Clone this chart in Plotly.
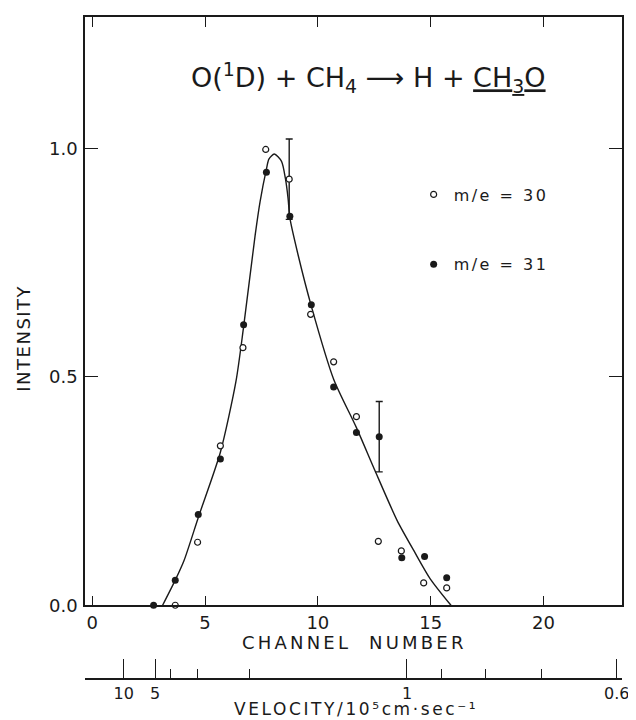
import plotly.graph_objects as go

# ---- data ----
ch30 = [3.68, 4.67, 5.68, 6.68, 7.69, 8.73, 9.68, 10.70, 11.71, 12.68, 13.70, 14.69, 15.71]
int30 = [0.0, 0.138, 0.349, 0.564, 0.998, 0.933, 0.637, 0.533, 0.413, 0.140, 0.119, 0.049, 0.038]

ch31 = [2.72, 3.68, 4.70, 5.68, 6.71, 7.72, 8.76, 9.71, 10.70, 11.71, 12.72, 13.72, 14.73, 15.71]
int31 = [0.0, 0.055, 0.199, 0.320, 0.614, 0.948, 0.852, 0.658, 0.478, 0.378, 0.369, 0.104, 0.107, 0.060]

# error bars (one on an m/e=30 point, one on an m/e=31 point)
err_ch = [8.73, 12.72]
err_int = [0.933, 0.369]
err_size = [0.088, 0.077]

# fitted curve
curve_ch = [3.12, 3.68, 4.07, 4.72, 5.68, 6.37, 6.71, 7.22, 7.44, 7.73, 7.83, 8.07, 8.39,
            8.56, 8.68, 8.76, 9.12, 9.71, 10.70, 11.71, 12.53, 13.51, 14.25, 14.98, 15.9]
curve_int = [0.0, 0.055, 0.098, 0.195, 0.335, 0.49, 0.61, 0.81, 0.884, 0.957, 0.977, 0.988, 0.972,
             0.935, 0.891, 0.848, 0.768, 0.655, 0.495, 0.389, 0.295, 0.186, 0.12, 0.058, 0.0]

# axis ticks
channel_ticks = [0, 5, 10, 15, 20]
intensity_ticks = [0.0, 0.5, 1.0]
vel_major = [10, 5, 1, 0.6]
vel_major_labels = ["10", "5", "1", "0.6"]
vel_minor = [4, 3, 2, 0.9, 0.8, 0.7]
VEL_CONST = 13.95  # channel = VEL_CONST / velocity

series_names = ["m/e = 30", "m/e = 31"]

FONT = "DejaVu Sans"
INK = "#1a1a1a"

XR = [-0.32, 23.48]
YR = [0, 1.288]


def spaced(txt, px):
    return '<span style="letter-spacing:%.1fpx">%s</span>' % (px, txt)


fig = go.Figure()

# curve
fig.add_trace(go.Scatter(x=curve_ch, y=curve_int, mode="lines",
                         line=dict(color=INK, width=1.4, shape="spline", smoothing=0.7),
                         showlegend=False, hoverinfo="skip", cliponaxis=False))

# error bars
fig.add_trace(go.Scatter(x=err_ch, y=err_int, mode="markers",
                         marker=dict(size=1, opacity=0),
                         error_y=dict(type="data", array=err_size, visible=True,
                                      color=INK, thickness=1.4, width=3.5),
                         showlegend=False, hoverinfo="skip", cliponaxis=False))

fig.add_trace(go.Scatter(x=ch30, y=int30, mode="markers", name=spaced(series_names[0], 2.5),
                         marker=dict(symbol="circle", size=6, color="white",
                                     line=dict(color=INK, width=1.2)),
                         legendgroup="a", cliponaxis=False))
fig.add_trace(go.Scatter(x=ch31, y=int31, mode="markers", name=spaced(series_names[1], 2.5),
                         marker=dict(symbol="circle", size=7, color=INK,
                                     line=dict(color=INK, width=0)),
                         legendgroup="b", cliponaxis=False))

# invisible trace to carry velocity axis
vel_pos = [VEL_CONST / v for v in vel_major]
fig.add_trace(go.Scatter(x=vel_pos, y=[None] * len(vel_pos), xaxis="x2", yaxis="y",
                         mode="markers", showlegend=False, hoverinfo="skip"))

axis_common = dict(showgrid=False, zeroline=False, showline=True, linecolor=INK,
                   linewidth=1.5, tickcolor=INK, tickwidth=1.4,
                   tickfont=dict(family=FONT, size=18, color=INK))

# page has an 8px body margin, so the figure is sized/offset to compensate
fig.update_layout(
    width=628, height=712,
    margin=dict(l=77, r=9, t=7, b=20),
    paper_bgcolor="white", plot_bgcolor="white",
    font=dict(family=FONT, color=INK),
    xaxis=dict(range=XR, tickvals=channel_ticks, ticks="inside", ticklen=10,
               mirror="ticks", domain=[0, 1], **axis_common),
    yaxis=dict(range=YR, tickvals=intensity_ticks, tickformat=".1f", ticks="inside",
               ticklen=13, mirror="ticks", domain=[0.1387, 1], ticklabelstandoff=2,
               **axis_common),
    xaxis2=dict(range=XR, overlaying="x", anchor="free", position=0.0307, side="bottom",
                tickmode="array", tickvals=vel_pos, ticktext=vel_major_labels,
                ticks="inside", ticklen=19,
                minor=dict(tickmode="array", tickvals=[VEL_CONST / v for v in vel_minor],
                           ticks="inside", ticklen=9, tickcolor=INK, tickwidth=1.4),
                showgrid=False, zeroline=False, showline=True, linecolor=INK,
                linewidth=1.5, tickcolor=INK, tickwidth=1.4,
                tickfont=dict(family=FONT, size=16, color=INK)),
    legend=dict(x=0.612, y=0.765, xanchor="left", yanchor="top",
                font=dict(family=FONT, size=16, color=INK),
                tracegroupgap=46, bgcolor="rgba(0,0,0,0)", borderwidth=0,
                traceorder="grouped"),
    showlegend=True,
)

fig.add_annotation(text="O(<sup>1</sup>D) + CH<sub>4</sub> ⟶ H + <u>CH<sub>3</sub>O</u>",
                   x=0.528, y=0.912, xref="paper", yref="paper", showarrow=False,
                   font=dict(family=FONT, size=27, color=INK), xanchor="center", yanchor="middle")
fig.add_annotation(text=spaced("CHANNEL  NUMBER", 3.2), x=0.502, y=0.0847,
                   xref="paper", yref="paper",
                   showarrow=False, font=dict(family=FONT, size=18, color=INK),
                   xanchor="center", yanchor="middle")
fig.add_annotation(text=spaced("VELOCITY/10⁵cm·sec⁻¹", 2.6), x=0.505, y=-0.0135,
                   xref="paper", yref="paper", showarrow=False,
                   font=dict(family=FONT, size=17, color=INK), xanchor="center", yanchor="middle")
fig.add_annotation(text=spaced("INTENSITY", 1.5), x=-0.116, y=0.53, xref="paper", yref="paper",
                   showarrow=False, textangle=-90, font=dict(family=FONT, size=18, color=INK),
                   xanchor="center", yanchor="middle")

fig.write_html("out.html")
